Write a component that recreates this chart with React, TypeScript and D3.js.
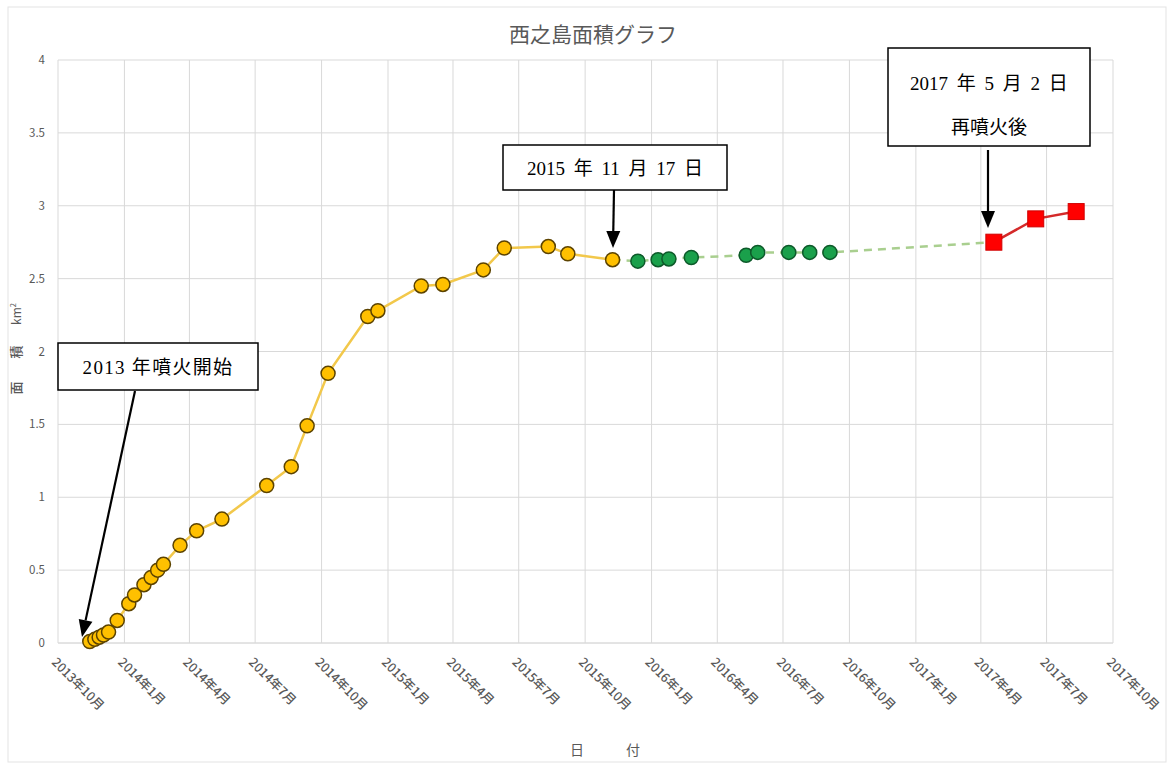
import React from "react";
import * as d3 from "d3";

// ---- data ----
const yellowDates = [
  "2013-11-14", "2013-11-21", "2013-11-27", "2013-12-03", "2013-12-10",
  "2013-12-22", "2014-01-07", "2014-01-15", "2014-01-28", "2014-02-07",
  "2014-02-16", "2014-02-24", "2014-03-19", "2014-04-11", "2014-05-16",
  "2014-07-17", "2014-08-20", "2014-09-11", "2014-10-10", "2014-12-04",
  "2014-12-18", "2015-02-16", "2015-03-18", "2015-05-13", "2015-06-11",
  "2015-08-11", "2015-09-07", "2015-11-08",
];
const yellowValues = [
  0.01, 0.025, 0.04, 0.055, 0.075,
  0.155, 0.27, 0.33, 0.4, 0.45,
  0.5, 0.54, 0.67, 0.77, 0.85,
  1.08, 1.21, 1.49, 1.85, 2.24,
  2.28, 2.45, 2.46, 2.56, 2.71,
  2.72, 2.67, 2.63,
];
const greenDates = [
  "2015-12-13", "2016-01-10", "2016-01-25", "2016-02-25", "2016-05-11",
  "2016-05-27", "2016-07-09", "2016-08-07", "2016-09-04",
];
const greenValues = [2.62, 2.63, 2.635, 2.645, 2.66, 2.68, 2.68, 2.68, 2.68];
const redDates = ["2017-04-19", "2017-06-16", "2017-08-11"];
const redValues = [2.75, 2.91, 2.96];
const yTicks = [0, 0.5, 1, 1.5, 2, 2.5, 3, 3.5, 4];
const yTickLabels = ["0", "0.5", "1", "1.5", "2", "2.5", "3", "3.5", "4"];
const title = "西之島面積グラフ";

const parse = d3.timeParse("%Y-%m-%d");

export default function App() {
  const W = 1171, H = 765;
  const left = 58, right = 1113, top = 60, bottom = 643;
  const x = d3.scaleTime()
    .domain([new Date(2013, 9, 1), new Date(2017, 9, 1)])
    .range([left, right]);
  const y = d3.scaleLinear().domain([0, 4]).range([bottom, top]);
  const xTicks = d3.timeMonth.every(3)!.range(new Date(2013, 9, 1), new Date(2017, 9, 2));

  const yellow = yellowDates.map((d, i) => ({ d: parse(d)!, v: yellowValues[i] }));
  const green = greenDates.map((d, i) => ({ d: parse(d)!, v: greenValues[i] }));
  const red = redDates.map((d, i) => ({ d: parse(d)!, v: redValues[i] }));
  const line = d3.line<{ d: Date; v: number }>().x((p) => x(p.d)).y((p) => y(p.v));
  const greenLine = [yellow[yellow.length - 1], ...green, red[0]];

  const grid = "#d9d9d9";
  const txt = "#595959";
  const serif = "'Liberation Serif', 'Noto Sans CJK JP', serif";
  const sans = "'Noto Sans CJK JP', 'Noto Sans', sans-serif";

  const arrow = (x1: number, y1: number, x2: number, y2: number) => {
    const ang = Math.atan2(y2 - y1, x2 - x1);
    const L = 17, Wd = 7;
    const bx = x2 - L * Math.cos(ang), by = y2 - L * Math.sin(ang);
    const px = -Math.sin(ang) * Wd, py = Math.cos(ang) * Wd;
    return (
      <g>
        <line x1={x1} y1={y1} x2={bx} y2={by} stroke="#000" strokeWidth={2.2} />
        <polygon points={`${x2},${y2} ${bx + px},${by + py} ${bx - px},${by - py}`} fill="#000" />
      </g>
    );
  };

  const boxText = { fontFamily: serif, fontSize: 19, fill: "#000", wordSpacing: 4 } as const;

  return (
    <svg width={W} height={H} style={{ position: "absolute", left: 0, top: 0, background: "#fff" }}>
      <rect x={8} y={7} width={1158} height={755} fill="#fff" stroke="#e3e3e3" strokeWidth={1} />
      <text x={593} y={42} textAnchor="middle" fontFamily={sans} fontSize={21} fill={txt}>{title}</text>

      {yTicks.map((t, i) => (
        <g key={"y" + i}>
          <line x1={left} x2={right} y1={y(t)} y2={y(t)} stroke={i === 0 ? "#c8c8c8" : grid} strokeWidth={1} />
          <text x={45} y={y(t)} dy="0.35em" textAnchor="end" fontFamily={sans} fontSize={11.5} fill={txt}>{yTickLabels[i]}</text>
        </g>
      ))}
      {xTicks.map((t, i) => (
        <g key={"x" + i}>
          <line x1={x(t)} x2={x(t)} y1={top} y2={bottom} stroke={grid} strokeWidth={1} />
          <text transform={`translate(${x(t) - 4},${bottom + 17}) rotate(45)`} textAnchor="start" dy="0.35em"
            fontFamily={sans} fontSize={12.5} fontWeight={500} fill={txt}>{`${t.getFullYear()}年${t.getMonth() + 1}月`}</text>
        </g>
      ))}

      {/* axis titles */}
      <text transform="translate(21,388) rotate(-90)" textAnchor="middle" fontFamily={sans} fontSize={13} fontWeight={500} fill={txt}>面</text>
      <text transform="translate(21,352) rotate(-90)" textAnchor="middle" fontFamily={sans} fontSize={13} fontWeight={500} fill={txt}>積</text>
      <text transform="translate(21,314) rotate(-90)" textAnchor="middle" fontFamily={sans} fontSize={12} fill={txt}>km<tspan fontSize={7.5} dy={-5}>2</tspan></text>
      <text x={577} y={755} textAnchor="middle" fontFamily={sans} fontSize={14} fill={txt}>日</text>
      <text x={633} y={755} textAnchor="middle" fontFamily={sans} fontSize={14} fill={txt}>付</text>

      {/* lines */}
      <path d={line(greenLine)!} fill="none" stroke="#a9cf8f" strokeWidth={2.5} strokeDasharray="8,6" />
      <path d={line(yellow)!} fill="none" stroke="#f2c84b" strokeWidth={2.5} />
      <path d={line(red)!} fill="none" stroke="#d42a2a" strokeWidth={2.5} />

      {/* markers */}
      {yellow.map((p, i) => (
        <circle key={"yc" + i} cx={x(p.d)} cy={y(p.v)} r={7} fill="#ffc000" stroke="#5c4300" strokeWidth={1.5} />
      ))}
      {green.map((p, i) => (
        <circle key={"gc" + i} cx={x(p.d)} cy={y(p.v)} r={7} fill="#1aa04b" stroke="#0d5a2a" strokeWidth={1.5} />
      ))}
      {red.map((p, i) => (
        <rect key={"rc" + i} x={x(p.d) - 8} y={y(p.v) - 8} width={16} height={16} fill="#ff0000" stroke="#d00000" strokeWidth={1} />
      ))}

      {/* annotations */}
      <rect x={58} y={343} width={200} height={47} fill="#fff" stroke="#000" strokeWidth={1.5} />
      <text x={158} y={374} textAnchor="middle" {...boxText} wordSpacing={0} letterSpacing={1.3}>2013 年噴火開始</text>
      {arrow(135, 391, 82, 637)}

      <rect x={503} y={145} width={224} height={45} fill="#fff" stroke="#000" strokeWidth={1.5} />
      <text x={615} y={175} textAnchor="middle" {...boxText}>2015 年 11 月 17 日</text>
      {arrow(614, 190, 613, 248)}

      <rect x={888} y={48} width={202} height={98} fill="#fff" stroke="#000" strokeWidth={1.5} />
      <text x={989} y={90} textAnchor="middle" {...boxText}>2017 年 5 月 2 日</text>
      <text x={989} y={134} textAnchor="middle" {...boxText}>再噴火後</text>
      {arrow(988, 150, 988, 228)}
    </svg>
  );
}
